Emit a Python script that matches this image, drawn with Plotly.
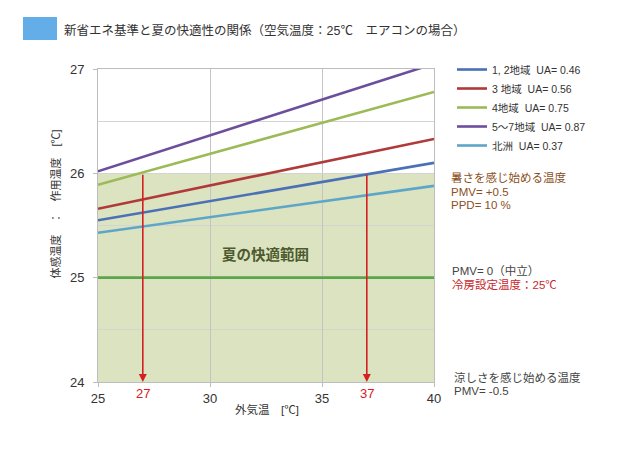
import plotly.graph_objects as go

# ---- data ----
outdoor_temp = [25, 40]
series_names = ["1, 2地域  UA= 0.46", "3 地域  UA= 0.56", "4地域  UA= 0.75",
                "5～7地域  UA= 0.87", "北洲  UA= 0.37"]
zone12 = [25.55, 26.10]
zone3 = [25.66, 26.33]
zone4 = [25.89, 26.78]
zone57 = [26.02, 27.05]
hokushu = [25.43, 25.88]
neutral_temp = [25, 25]
comfort_low, comfort_high = 24, 26
arrow_x = [27, 37]
x_ticks = [25, 30, 35, 40]
y_ticks = [24, 25, 26, 27]

colors = ["#4a70b6", "#b03a3a", "#9cba56", "#6c4f9c", "#5ea6c8"]
FONT = "Liberation Sans, Noto Sans CJK JP, sans-serif"

fig = go.Figure()
for name, ys, c in zip(series_names, [zone12, zone3, zone4, zone57, hokushu], colors):
    fig.add_trace(go.Scatter(x=outdoor_temp, y=ys, mode="lines", name=name,
                             line=dict(color=c, width=2.6)))
fig.add_trace(go.Scatter(x=outdoor_temp, y=neutral_temp, mode="lines", showlegend=False,
                         line=dict(color="#5ba64a", width=2.6), hoverinfo="skip"))

# comfort zone shading
fig.add_shape(type="rect", xref="x", yref="y", x0=outdoor_temp[0], x1=outdoor_temp[1],
              y0=comfort_low, y1=comfort_high, fillcolor="#dbe3c0", line_width=0, layer="below")

# arrows
for ax_ in arrow_x:
    fig.add_annotation(x=ax_, y=comfort_low, ax=ax_, ay=comfort_high, xref="x", yref="y",
                       axref="x", ayref="y", showarrow=True, arrowhead=2, arrowsize=1,
                       arrowwidth=1.6, arrowcolor="#d42020", text="")
    fig.add_annotation(x=ax_, y=comfort_low, xref="x", yref="y", text=str(ax_), showarrow=False,
                       yanchor="top", yshift=-2, font=dict(color="#d42020", size=13, family=FONT))

# page has an 8px body margin; work in reference pixel coordinates
OFF = 8
W, H = 640 - OFF, 453 - OFF
L, R, T, B = 98, 434, 69, 382   # plot area in reference pixels
def px(x): return (x - L) / (R - L)
def py(y): return (B - y) / (B - T)

fig.add_annotation(x=32.46, y=25.22, xref="x", yref="y", text="<b>夏の快適範囲</b>", showarrow=False,
                   font=dict(color="#4d5a2e", size=14.5, family=FONT))

side = [
    ("暑さを感じ始める温度", 449, 177, "#8a4f22"),
    ("PMV= +0.5", 449, 191.5, "#8a4f22"),
    ("PPD= 10 %", 449, 205, "#8a4f22"),
    ("PMV= 0（中立）", 450, 270.5, "#444444"),
    ("冷房設定温度：25℃", 450, 284, "#c8282d"),
    ("涼しさを感じ始める温度", 452, 377, "#444444"),
    ("PMV= -0.5", 452, 391, "#444444"),
]
for t, x, y, c in side:
    fig.add_annotation(x=px(x), y=py(y), xref="paper", yref="paper", text=t, showarrow=False,
                       xanchor="left", yanchor="middle", font=dict(color=c, size=11.5, family=FONT))

# title
fig.add_shape(type="rect", xref="paper", yref="paper", x0=px(23), x1=px(57), y0=py(40), y1=py(17),
              fillcolor="#63aee8", line_width=0)
fig.add_annotation(x=px(62), y=py(30), xref="paper", yref="paper",
                   text="新省エネ基準と夏の快適性の関係（空気温度：25℃　エアコンの場合）",
                   showarrow=False, xanchor="left", yanchor="middle",
                   font=dict(color="#333333", size=12.5, family=FONT))
# axis titles
fig.add_annotation(x=px(46), y=py(204), xref="paper", yref="paper", text="体感温度　：　作用温度　[℃]",
                   textangle=-90, showarrow=False, font=dict(color="#333333", size=11, family=FONT))
fig.add_annotation(x=px(267), y=py(418), xref="paper", yref="paper", text="外気温　[℃]",
                   showarrow=False, font=dict(color="#333333", size=11.5, family=FONT))

fig.update_layout(
    width=W, height=H,
    margin=dict(l=L - OFF, r=640 - R, t=T - OFF, b=453 - B),
    paper_bgcolor="white", plot_bgcolor="white",
    font=dict(family=FONT, color="#333333", size=13),
    legend=dict(x=px(452), y=py(55), xanchor="left", yanchor="top", font=dict(size=10.5, color="#333333"),
                itemwidth=30, tracegroupgap=0, bgcolor="rgba(0,0,0,0)"),
    showlegend=True,
)
fig.update_xaxes(range=[25, 40], tickvals=x_ticks, showgrid=True, gridcolor="#c4c4c4", gridwidth=1,
                 showline=True, linecolor="#bdbdbd", mirror=True, ticks="outside", ticklen=4,
                 tickcolor="#bdbdbd", zeroline=False, tickfont=dict(size=13))
fig.update_yaxes(range=[24, 27], tickvals=y_ticks, showgrid=True, gridcolor="#d4d4d4", gridwidth=1,
                 minor=dict(dtick=0.5, showgrid=True, gridcolor="#d4d4d4"),
                 showline=True, linecolor="#bdbdbd", mirror=True, ticks="outside", ticklen=4,
                 tickcolor="#bdbdbd", zeroline=False, tickfont=dict(size=13), ticklabelstandoff=6)

fig.write_html("out.html")
